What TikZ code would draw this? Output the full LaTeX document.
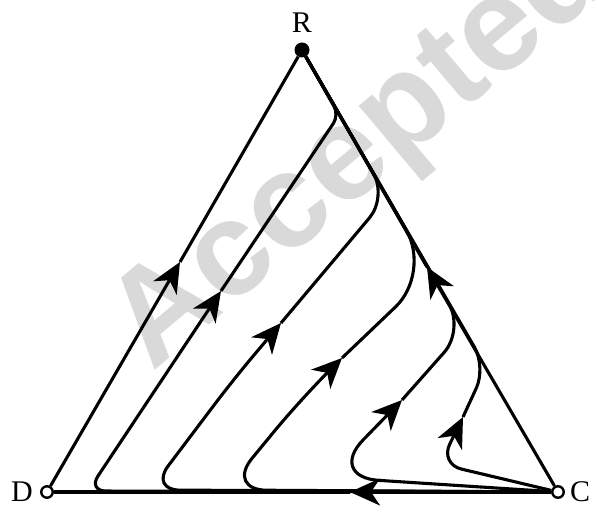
\documentclass[tikz,border=0pt]{standalone}
\usepackage{fontspec}
\setmainfont{Liberation Serif}
\newfontfamily\stampfont{Liberation Sans}
\usepackage{tikz}
\usetikzlibrary{arrows.meta,positioning}
\definecolor{stampgray}{gray}{0.85}

\begin{document}
\begin{tikzpicture}[x=1pt,y=-1pt,
    orbit/.style={line width=3.1pt},
    flow/.style={orbit,-{Stealth[length=30pt,width=27pt,inset=9pt]}},
    openpt/.style={circle,draw,fill=white,line width=2.4pt,inner sep=0pt,minimum size=11.5pt},
    fullpt/.style={circle,fill=black,inner sep=0pt,minimum size=15pt},
    lbl/.style={inner sep=0pt,font=\fontsize{30}{30}\selectfont}]
\useasboundingbox (0,0) rectangle (597,518);
% watermark
\begin{scope}
    \clip (0,0) rectangle (597,518);
    \node[stampgray,rotate=40,font=\stampfont\bfseries\fontsize{134}{134}\selectfont] (stamp) at (361,152) {Accepted};
\end{scope}
% corners of the simplex
\node[fullpt] (R) at (302,50) {};
\node[openpt] (D) at (47,492) {};
\node[openpt] (C) at (558,492) {};
\node[lbl,above=10pt of R] (Rlbl) {R};
\node[lbl,left=7pt of D] (Dlbl) {D};
\node[lbl,right=5pt of C] (Clbl) {C};
% arrow tips on the edges
\coordinate (aDR) at (180,262);
\coordinate (aRC) at (427,267);
\coordinate (aDC) at (350,492);
% turning points of the orbits
\coordinate (b2) at (88,491);  \coordinate (a2) at (221,291); \coordinate (t2) at (339,115);
\coordinate (b3) at (150,490); \coordinate (m3) at (233,380); \coordinate (a3) at (281,323); \coordinate (t3) at (387,197);
\coordinate (b4) at (226,490); \coordinate (m4) at (300,400); \coordinate (a4) at (342,358); \coordinate (t4) at (431,273);
\coordinate (b5) at (327,477); \coordinate (a5) at (402,400); \coordinate (t5) at (464,330);
\coordinate (b6) at (440,464); \coordinate (a6) at (463,417); \coordinate (t6) at (486,367);
% edges
\draw[flow] (D) -- (aDR);
\draw[orbit] (aDR) -- (R);
\draw[flow] (C) -- (aRC);
\draw[orbit] (aRC) -- (R);
\draw[flow] (C) -- (aDC);
\draw[orbit] (aDC) -- (D);
% orbits from C to R
\draw[flow] (C) [rounded corners=18pt] -- (b2) -- (a2);
\draw[orbit] (a2) [rounded corners=10pt] -- (t2) -- (R);
\draw[flow] (C) [rounded corners=30pt] -- (b3) -- (m3) -- (a3);
\draw[orbit] (a3) [rounded corners=27pt] -- (t3) -- (R);
\draw[flow] (C) [rounded corners=41pt] -- (b4) -- (m4) -- (a4);
\draw[orbit] (a4) [rounded corners=49pt] -- (t4) -- (R);
\draw[flow] (C) [rounded corners=52pt] -- (b5) -- (a5);
\draw[orbit] (a5) [rounded corners=30pt] -- (t5) -- (R);
\draw[flow] (C) [rounded corners=22pt] -- (b6) -- (a6);
\draw[orbit] (a6) [rounded corners=23pt] -- (t6) -- (R);
\end{tikzpicture}
\end{document}
